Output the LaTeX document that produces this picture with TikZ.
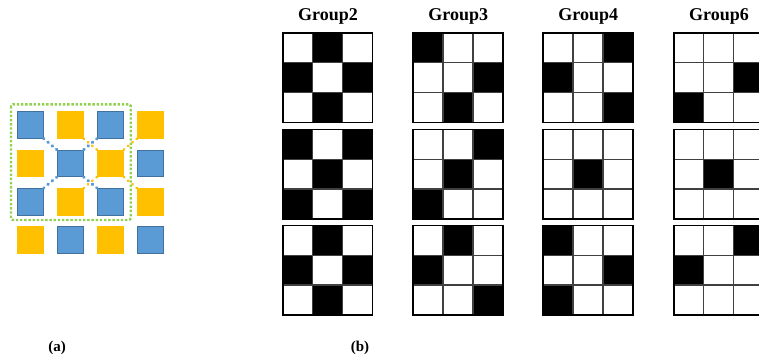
\documentclass[tikz,border=0pt]{standalone}
\usepackage{fontspec}
\setmainfont{Liberation Serif}
\usepackage{xcolor}
\usepackage{tikz}
\definecolor{sqblue}{HTML}{5B9BD5}
\definecolor{sqblueedge}{HTML}{41719C}
\definecolor{sqyellow}{HTML}{FFC000}
\definecolor{boxgreen}{HTML}{92D050}
\tikzset{
bluesq/.style={rectangle,inner sep=0pt,minimum width=26bp,minimum height=26.5bp,
  fill=sqblue,draw=sqblueedge,line width=.8bp},
yellowsq/.style={rectangle,inner sep=0pt,minimum width=26bp,minimum height=26.5bp,
  fill=sqyellow,draw=sqyellow,line width=.8bp},
bluedots/.style={sqblue,line width=3.2bp,line cap=round,dash pattern=on .6bp off 5bp},
yellowdots/.style={sqyellow,line width=2.6bp,line cap=round,dash pattern=on .6bp off 5bp},
greendots/.style={boxgreen,line width=2.4bp,dash pattern=on 2.4bp off 1.8bp,rounded corners=2bp},
cell/.style={draw=black!75,line width=1.3bp},
gridframe/.style={draw=black,line width=1.8bp},
grouptitle/.style={font=\fontsize{18bp}{20bp}\selectfont\bfseries},
panellabel/.style={font=\fontsize{15bp}{17bp}\selectfont\bfseries},
}
\newcommand{\cw}{29.8}
% #1,#2: top left corner, #3: the nine cells (1 = black)
\newcommand{\patgrid}[3]{%
  \foreach \v [count=\i from 0] in {#3} {
    \pgfmathtruncatemacro\cc{mod(\i,3)}
    \pgfmathtruncatemacro\rr{div(\i,3)}
    \ifnum\v=1 \def\cellcol{black}\else\def\cellcol{white}\fi
    \draw[cell,fill=\cellcol] (#1+\cc*\cw,#2+\rr*\cw) rectangle ++(\cw,\cw);
  }
  \draw[gridframe] (#1,#2) rectangle ++(3*\cw,3*\cw);
}

\begin{document}
\begin{tikzpicture}[x=1bp,y=-1bp]
\useasboundingbox (0,0) rectangle (759,360);
\clip (0,0) rectangle (759,360);
% the squares of (a)
\foreach \r in {1,...,4}
{
  \foreach \c in {1,...,4}
  {
    \pgfmathtruncatemacro\sqodd{mod(\r+\c,2)}
    \ifnum\sqodd=0
      \node[bluesq] (sq-\r-\c) at ({30.3+40*(\c-1)},{125+38.33*(\r-1)}) {};
    \else
      \node[yellowsq] (sq-\r-\c) at ({30.3+40*(\c-1)},{125+38.33*(\r-1)}) {};
    \fi
  }
}
% the dotted links
\draw[bluedots] (sq-2-2.north west) -- (sq-1-1.south east);
\draw[bluedots] (sq-2-2.north east) -- (sq-1-3.south west);
\draw[bluedots] (sq-2-2.south west) -- (sq-3-1.north east);
\draw[bluedots] (sq-2-2.south east) -- (sq-3-3.north west);
\draw[yellowdots] (sq-2-3.north west) -- (sq-1-2.south east);
\draw[yellowdots] (sq-2-3.north east) -- (sq-1-4.south west);
\draw[yellowdots] (sq-2-3.south west) -- (sq-3-2.north east);
\draw[yellowdots] (sq-2-3.south east) -- (sq-3-4.north west);
\draw[greendots] (11,104.3) rectangle (130.7,220);
% the titles
\node[grouptitle] (g2) at (328,16) {Group2};
\node[grouptitle] (g3) at (458.3,16) {Group3};
\node[grouptitle] (g4) at (588.3,16) {Group4};
\node[grouptitle] (g6) at (719,16) {Group6};
% the grids
\patgrid{283}{33}{0,1,0,1,0,1,0,1,0}
\patgrid{283}{129.5}{1,0,1,0,1,0,1,0,1}
\patgrid{283}{225.5}{0,1,0,1,0,1,0,1,0}
\patgrid{413.3}{33}{1,0,0,0,0,1,0,1,0}
\patgrid{413.3}{129.5}{0,0,1,0,1,0,1,0,0}
\patgrid{413.3}{225.5}{0,1,0,1,0,0,0,0,1}
\patgrid{543.3}{33}{0,0,1,1,0,0,0,0,1}
\patgrid{543.3}{129.5}{0,0,0,0,1,0,0,0,0}
\patgrid{543.3}{225.5}{1,0,0,0,0,1,1,0,0}
\patgrid{674}{33}{0,0,0,0,0,1,1,0,0}
\patgrid{674}{129.5}{0,0,0,0,1,0,0,0,0}
\patgrid{674}{225.5}{0,0,1,1,0,0,0,0,0}
% the panel labels
\node[panellabel] (la) at (57,348) {(a)};
\node[panellabel] (lb) at (360,348) {(b)};
\end{tikzpicture}
\end{document}
